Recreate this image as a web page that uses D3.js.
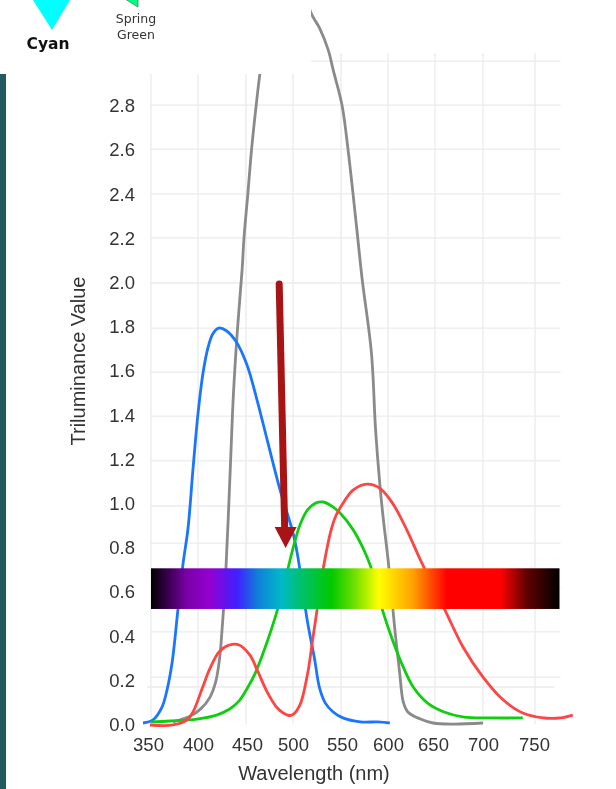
<!DOCTYPE html>
<html>
<head>
  <meta charset="utf-8">
  <script src="https://d3js.org/d3.v7.min.js"></script>
  <style>
    html, body { margin: 0; padding: 0; background: #fff; overflow: hidden; }
    svg { display: block; filter: blur(0.35px); }
    .tick text { font-family: "Liberation Sans", sans-serif; font-size: 18.5px; fill: #333; }
    .title { font-family: "Liberation Sans", sans-serif; font-size: 20px; fill: #333; text-anchor: middle; }
  </style>
</head>
<body>
  <div id="my_dataviz"></div>

<script>
// tick labels
const xTicks = [350, 400, 450, 500, 550, 600, 650, 700, 750]
const yTicks = [0, 0.2, 0.4, 0.6, 0.8, 1.0, 1.2, 1.4, 1.6, 1.8, 2.0, 2.2, 2.4, 2.6, 2.8]

// gridlines, the picture is stitched so they do not sit exactly on the ticks
const xGrid = [353, 400, 449, 500, 549, 600, 652, 700, 751]
const yGrid = [0.163, 0.208, 0.412, 0.61, 0.814, 0.982, 1.186, 1.389, 1.588, 1.787, 1.991, 2.195, 2.394, 2.597, 2.796, 2.995]

// curves, [wavelength, value]
const grayCurve = [[375,.005],[392,.03],[403,.065],[412,.115],[418,.185],[422,.29],[425,.45],[428,.65],[433,1.158],[436,1.475],[440,1.765],[445,2.05],[447,2.199],[451,2.398],[455,2.597],[460,2.796],[464,2.937],[490,3.7],[518,3.217],[527,3.145],[536,3.045],[541,2.955],[550,2.796],[556.5,2.597],[562,2.394],[567,2.199],[572,2.005],[582,1.674],[586.5,1.326],[591,1.086],[595,.919],[600,.742],[604.5,.557],[608,.407],[613,.226],[617,.095],[622,.05],[636,.018],[650,0],[670,-.005],[700,0]]
const blueCurve = [[345,0],[355,.014],[364,.072],[369,.149],[374,.27],[380,.516],[385,.72],[390,.88],[395,1.15],[400,1.4],[405,1.58],[410,1.695],[415,1.76],[421,1.787],[429,1.775],[439,1.725],[450,1.62],[461,1.46],[472,1.28],[486,1.054],[500,.86],[505,.751],[510,.6],[515,.452],[522,.29],[527,.16],[533,.09],[541,.05],[551,.023],[570,.005],[589,.005],[602,0]]
const greenCurve = [[353,.005],[372,.009],[399,.018],[419,.036],[432,.062],[442,.1],[450,.155],[459,.226],[470,.345],[483,.511],[494,.69],[500,.79],[507,.895],[515,.965],[523,.995],[531,1.0],[540,.98],[548,.95],[562,.875],[573,.79],[581,.71],[594,.511],[605,.376],[617,.253],[628,.163],[644,.09],[661,.05],[681,.027],[704,.023],[739,.023]]
const redCurve = [[352,-.009],[375,-.009],[389,.014],[395,.05],[405,.165],[412,.245],[422,.325],[432,.353],[442,.353],[453,.308],[462,.231],[472,.14],[483,.068],[494,.036],[499,.036],[507,.081],[515,.226],[520,.376],[523.5,.48],[529,.65],[534,.775],[539,.875],[544,.94],[552,1.0],[562,1.054],[577,1.081],[591,1.063],[605,.995],[621,.873],[636,.738],[662,.511],[680,.344],[700,.208],[720,.104],[739,.045],[759,.023],[776,.023],[788,.036]]

// spectrum strip
const spectrumNm = [353, 389, 412, 440, 462, 487, 507, 539, 564, 590, 628, 664, 717, 743, 775]
const spectrumColors = ["#000000", "#7a00a8", "#9400d0", "#4020ff", "#1080d8", "#00b8c8", "#00c070", "#00c800", "#70e000", "#ffff00", "#ffa000", "#ff0000", "#ff0000", "#600000", "#000000"]
const spectrumValues = [0.516, 0.70]

// arrow, [wavelength, value]
const arrowFrom = [485, 1.986]
const arrowTo = [491, 0.873]
const arrowTip = [492, 0.792]

const width = 616, height = 789

const x = d3.scaleLinear()
  .domain(xTicks)
  .range([148, 198, 247, 293, 342, 388, 433, 483, 534])
const y = d3.scaleLinear()
  .domain([0, 3])
  .range([723, 60])

const svg = d3.select("#my_dataviz")
  .append("svg")
    .attr("width", width)
    .attr("height", height)

// slide edge on the left
svg.append("rect")
  .attr("x", 0).attr("y", 74)
  .attr("width", 6).attr("height", height - 74)
  .style("fill", "#235a60")

// grid
svg.append("g").selectAll("line")
  .data(xGrid)
  .join("line")
    .attr("x1", d => x(d)).attr("x2", d => x(d))
    .attr("y1", y(3.03)).attr("y2", y(-0.005))
    .style("stroke", "#ebebeb").style("stroke-width", 1.3)
svg.append("g").selectAll("line")
  .data(yGrid)
  .join("line")
    .attr("x1", d => d == 0.163 ? x(349) : x(352))
    .attr("x2", d => d == 0.163 ? x(770) : x(776))
    .attr("y1", d => y(d)).attr("y2", d => y(d))
    .style("stroke", "#ebebeb").style("stroke-width", 1.3)

const line = d3.line()
  .x(d => x(d[0]))
  .y(d => y(d[1]))
  .curve(d3.curveCatmullRom.alpha(0.5))

function drawCurve(data, color) {
  svg.append("path")
    .datum(data)
    .attr("d", line)
    .style("fill", "none")
    .style("stroke", color)
    .style("stroke-width", 2.8)
}

drawCurve(grayCurve, "#8a8a8a")

// white panel of the slide above, hides the top of the gray curve
svg.append("rect")
  .attr("x", 0).attr("y", 0)
  .attr("width", 311).attr("height", 74)
  .style("fill", "#fff")

drawCurve(blueCurve, "#1a75ff")
drawCurve(greenCurve, "#11cc11")
drawCurve(redCurve, "#ff4444")

// spectrum
const grad = svg.append("defs").append("linearGradient")
  .attr("id", "spectrum")
grad.selectAll("stop")
  .data(spectrumNm)
  .join("stop")
    .attr("offset", d => (x(d) - x(353)) / (x(775) - x(353)))
    .attr("stop-color", (d, i) => spectrumColors[i])
svg.append("rect")
  .attr("x", x(353)).attr("y", y(spectrumValues[1]))
  .attr("width", x(775) - x(353))
  .attr("height", y(spectrumValues[0]) - y(spectrumValues[1]))
  .style("fill", "url(#spectrum)")

// arrow
svg.append("line")
  .attr("x1", x(arrowFrom[0])).attr("y1", y(arrowFrom[1]))
  .attr("x2", x(arrowTo[0])).attr("y2", y(arrowTo[1]))
  .style("stroke", "#a81414").style("stroke-width", 7).style("stroke-linecap", "round")
const tipX = x(arrowTip[0]), tipY = y(arrowTip[1])
svg.append("path")
  .attr("d", `M${tipX - 11},${tipY - 21}L${tipX + 11},${tipY - 21}L${tipX},${tipY}Z`)
  .style("fill", "#a81414")

// axes
const xAxis = svg.append("g")
  .attr("transform", "translate(0,735)")
  .call(d3.axisBottom(x).tickValues(xTicks).tickFormat(d3.format("d")).tickSize(0))
xAxis.select(".domain").remove()
xAxis.selectAll("text").attr("dy", "0.7em")

const yAxis = svg.append("g")
  .attr("transform", "translate(138,0)")
  .call(d3.axisLeft(y).tickValues(yTicks).tickFormat(d3.format(".1f")).tickSize(0))
yAxis.select(".domain").remove()
yAxis.selectAll("text").attr("dy", "0.4em")

svg.append("text")
  .attr("class", "title")
  .attr("x", 314).attr("y", 780)
  .text("Wavelength (nm)")
svg.append("text")
  .attr("class", "title")
  .attr("transform", "translate(85,361) rotate(-90)")
  .text("Triluminance Value")

// leftovers of the colour wheel labels above the chart
svg.append("path")
  .attr("d", "M33,0L70,0L52,30Z")
  .style("fill", "#00ffff")
svg.append("text")
  .attr("x", 48).attr("y", 49)
  .attr("text-anchor", "middle")
  .style("font-family", "DejaVu Sans").style("font-weight", "bold").style("font-size", "15.5px").style("fill", "#111")
  .text("Cyan")
svg.append("path")
  .attr("d", "M125,-1L138,7L138,-1Z")
  .style("fill", "#00ff7f").style("stroke", "#2a7a50").style("stroke-width", 0.7)
svg.selectAll("text.spring")
  .data(["Spring", "Green"])
  .join("text")
    .attr("class", "spring")
    .attr("x", 136).attr("y", (d, i) => 23 + i * 16)
    .attr("text-anchor", "middle")
    .style("font-family", "DejaVu Sans").style("font-size", "12.5px").style("fill", "#333")
    .text(d => d)
</script>
</body>
</html>
